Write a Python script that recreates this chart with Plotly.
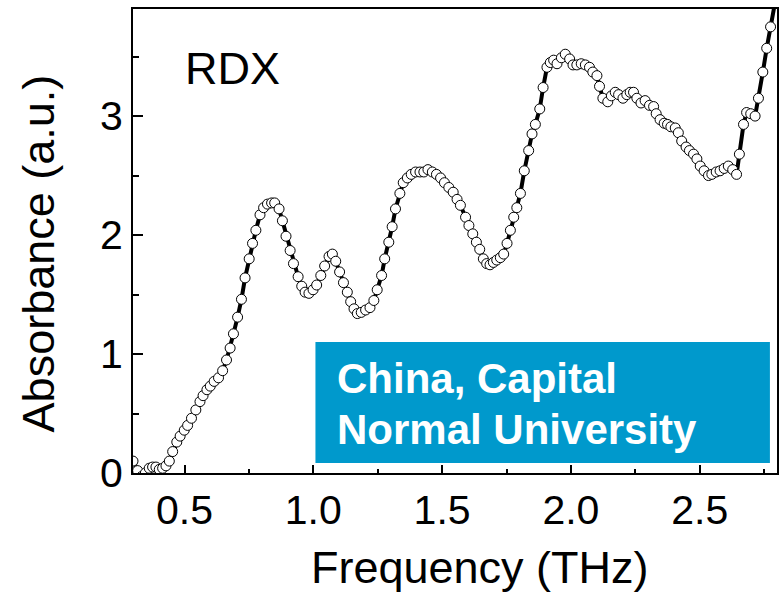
import plotly.graph_objects as go

# THz absorbance spectrum of RDX
freq_thz = [
    0.300, 0.318, 0.333, 0.348, 0.363, 0.376, 0.389, 0.402, 0.415, 0.428,
    0.441, 0.454, 0.470, 0.483, 0.499, 0.512, 0.527, 0.544, 0.560, 0.572,
    0.587, 0.600, 0.615, 0.632, 0.648, 0.663, 0.677, 0.690, 0.706, 0.721,
    0.735, 0.751, 0.764, 0.777, 0.793, 0.807, 0.822, 0.838, 0.850, 0.867,
    0.880, 0.894, 0.910, 0.923, 0.941, 0.955, 0.968, 0.983, 0.999, 1.013,
    1.029, 1.044, 1.061, 1.074, 1.087, 1.102, 1.117, 1.132, 1.145, 1.158,
    1.171, 1.186, 1.203, 1.220, 1.235, 1.248, 1.265, 1.277, 1.293, 1.306,
    1.319, 1.336, 1.349, 1.365, 1.380, 1.397, 1.414, 1.429, 1.445, 1.462,
    1.478, 1.494, 1.509, 1.526, 1.543, 1.558, 1.571, 1.591, 1.604, 1.619,
    1.633, 1.646, 1.660, 1.673, 1.686, 1.699, 1.712, 1.726, 1.739, 1.752,
    1.765, 1.778, 1.790, 1.804, 1.819, 1.836, 1.849, 1.862, 1.879, 1.892,
    1.907, 1.920, 1.933, 1.946, 1.963, 1.978, 1.995, 2.008, 2.023, 2.040,
    2.056, 2.072, 2.085, 2.101, 2.111, 2.124, 2.143, 2.157, 2.172, 2.185,
    2.202, 2.217, 2.230, 2.243, 2.256, 2.272, 2.288, 2.305, 2.321, 2.331,
    2.346, 2.362, 2.375, 2.388, 2.405, 2.417, 2.430, 2.447, 2.460, 2.476,
    2.489, 2.502, 2.517, 2.534, 2.547, 2.564, 2.579, 2.595, 2.611, 2.628,
    2.643, 2.654, 2.670, 2.682, 2.698, 2.715, 2.728, 2.745, 2.760, 2.775,
    2.792,
]
absorbance = [
    0.10, 0.02, -0.03, 0.00, 0.04, 0.05, 0.05, 0.03, 0.04, 0.06,
    0.10, 0.18, 0.26, 0.31, 0.36, 0.40, 0.46, 0.53, 0.60, 0.65,
    0.70, 0.73, 0.77, 0.80, 0.86, 0.95, 1.05, 1.17, 1.31, 1.46,
    1.64, 1.80, 1.93, 2.04, 2.17, 2.23, 2.26, 2.27, 2.27, 2.22,
    2.12, 1.99, 1.87, 1.76, 1.65, 1.57, 1.52, 1.51, 1.54, 1.58,
    1.66, 1.74, 1.82, 1.84, 1.78, 1.69, 1.60, 1.52, 1.44, 1.38,
    1.34, 1.35, 1.37, 1.39, 1.45, 1.54, 1.66, 1.80, 1.94, 2.07,
    2.22, 2.35, 2.44, 2.48, 2.51, 2.53, 2.53, 2.53, 2.55, 2.53,
    2.51, 2.48, 2.44, 2.40, 2.36, 2.30, 2.25, 2.15, 2.08, 2.01,
    1.94, 1.88, 1.80, 1.76, 1.75, 1.77, 1.79, 1.81, 1.84, 1.93,
    2.04, 2.15, 2.23, 2.35, 2.54, 2.71, 2.85, 2.93, 3.06, 3.24,
    3.41, 3.45, 3.47, 3.44, 3.49, 3.52, 3.48, 3.43, 3.43, 3.44,
    3.43, 3.41, 3.37, 3.34, 3.25, 3.15, 3.12, 3.17, 3.20, 3.18,
    3.15, 3.18, 3.20, 3.20, 3.15, 3.11, 3.13, 3.09, 3.08, 3.02,
    2.97, 2.94, 2.93, 2.91, 2.90, 2.86, 2.79, 2.74, 2.71, 2.68,
    2.64, 2.58, 2.54, 2.50, 2.51, 2.53, 2.54, 2.56, 2.58, 2.55,
    2.51, 2.68, 2.93, 3.03, 3.02, 3.00, 3.15, 3.37, 3.57, 3.75,
    3.95,
]

x_ticks = [0.5, 1.0, 1.5, 2.0, 2.5]
x_tick_labels = ["0.5", "1.0", "1.5", "2.0", "2.5"]
y_ticks = [0, 1, 2, 3]
y_tick_labels = ["0", "1", "2", "3"]

FONT = "Liberation Sans, Arial, sans-serif"
BOX_BLUE = "#0099CC"

fig = go.Figure()

# thick connecting line drawn beneath the open circles
fig.add_trace(go.Scatter(
    x=freq_thz, y=absorbance, mode="lines",
    line=dict(color="black", width=4),
    hoverinfo="skip", showlegend=False,
))
fig.add_trace(go.Scatter(
    x=freq_thz, y=absorbance, mode="markers",
    marker=dict(symbol="circle", size=10, color="white",
                line=dict(color="black", width=1)),
    showlegend=False,
))

axis_common = dict(
    showline=True, linecolor="black", linewidth=2, mirror=True,
    showgrid=False, zeroline=False,
    ticks="inside", tickcolor="black", tickwidth=1.5,
    tickfont=dict(family=FONT, size=41, color="black"),
)

fig.update_xaxes(
    range=[0.3, 2.8], tickvals=x_ticks, ticktext=x_tick_labels, ticklen=8,
    minor=dict(ticks="inside", ticklen=4, tickcolor="black", tickwidth=1.5,
               dtick=0.25, tick0=0.25),
    **axis_common,
)
fig.update_yaxes(
    range=[0, 3.9], tickvals=y_ticks, ticktext=y_tick_labels, ticklen=10,
    minor=dict(ticks="inside", ticklen=6, tickcolor="black", tickwidth=1.5,
               dtick=0.5, tick0=0.5),
    **axis_common,
)

# affiliation banner
fig.add_shape(type="rect", xref="paper", yref="paper",
              x0=0.2833, x1=0.989, y0=0.0216, y1=0.2823,
              fillcolor=BOX_BLUE, line=dict(width=0), layer="above")

annotations = [
    dict(text="RDX", x=0.0774, y=0.8728, xanchor="left", yanchor="middle",
         font=dict(family=FONT, size=45, color="black")),
    dict(text="<b>China, Capital</b>", x=0.3142, y=0.2047, xanchor="left",
         yanchor="middle", font=dict(family=FONT, size=42, color="white")),
    dict(text="<b>Normal University</b>", x=0.3142, y=0.0948, xanchor="left",
         yanchor="middle", font=dict(family=FONT, size=42, color="white")),
    dict(text="Frequency (THz)", x=0.5387, y=-0.2047, xanchor="center",
         yanchor="middle", font=dict(family=FONT, size=45, color="black")),
    dict(text="Absorbance (a.u.)", x=-0.147, y=0.474, xanchor="center",
         yanchor="middle", textangle=-90,
         font=dict(family=FONT, size=45, color="black")),
]
for a in annotations:
    fig.add_annotation(xref="paper", yref="paper", showarrow=False, **a)

fig.update_layout(
    width=782, height=594,
    margin=dict(l=133, r=3, t=9, b=121),
    paper_bgcolor="white", plot_bgcolor="white",
    font=dict(family=FONT),
)

fig.write_html("out.html")
